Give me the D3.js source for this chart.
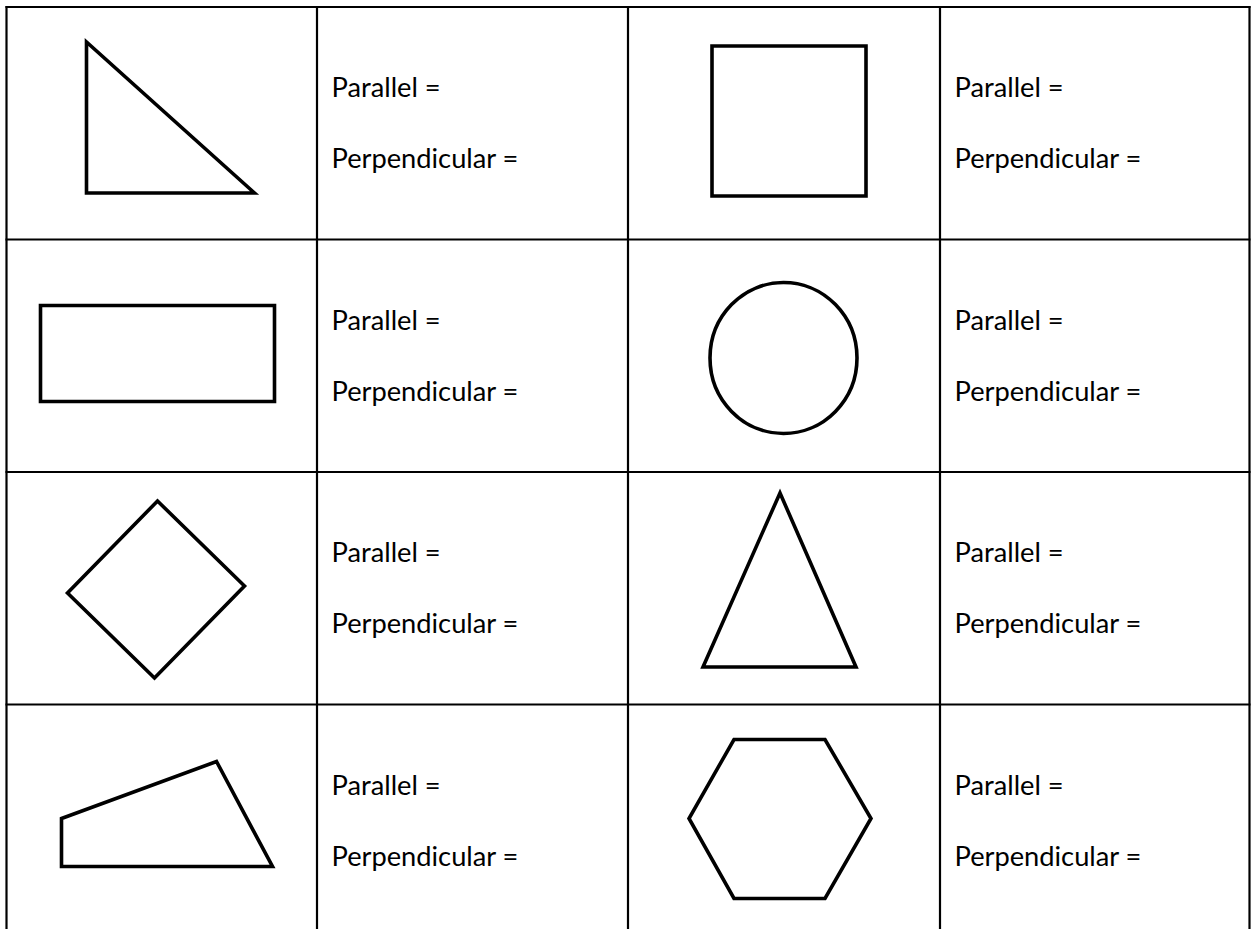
<!DOCTYPE html>
<html>
<head>
<meta charset="utf-8">
<script src="https://cdn.jsdelivr.net/npm/d3@7"></script>
<style>
  html, body { margin: 0; padding: 0; background: #fff; overflow: hidden; }
  svg { display: block; }
</style>
</head>
<body>
<svg id="c" width="1251" height="929"></svg>
<script>
// table layout: 4 rows x 4 columns, shape cells at columns 0 and 2
const rowCount = 4;
const colCount = 4;
const colEdges = [6.5, 317, 628, 940, 1249.5];
const labels = ["Parallel =", "Perpendicular ="];

// shape outlines, vertices relative to the top-left of their cell (px)
const shapeCells = [
  { row: 0, col: 0, name: "right triangle", pts: [[80, 35], [80, 186], [248, 186]] },
  { row: 0, col: 2, name: "square", pts: [[84, 39], [238, 39], [238, 189], [84, 189]] },
  { row: 1, col: 0, name: "rectangle", pts: [[34, 66], [268, 66], [268, 162], [34, 162]] },
  { row: 2, col: 0, name: "rhombus", pts: [[151, 29], [238, 114], [148, 206], [61, 121]] },
  { row: 2, col: 2, name: "isosceles triangle", pts: [[152, 21], [228, 195], [75, 195]] },
  { row: 3, col: 0, name: "trapezium", pts: [[55, 114], [210, 57], [266, 162], [55, 162]] },
  { row: 3, col: 2, name: "hexagon", pts: [[106, 35], [197, 35], [243, 114], [197, 194], [106, 194], [61, 114]] }
];
const circleCells = [
  { row: 1, col: 2, name: "circle", cx: 155.5, cy: 118.5, rx: 73.5, ry: 75.5 }
];

const svg = d3.select("#c");

const x = d3.scaleLinear().domain(d3.range(colCount + 1)).range(colEdges);
const y = d3.scaleLinear().domain([0, rowCount]).range([7, 937]);

// grid
const grid = svg.append("g").attr("stroke", "#000").attr("stroke-width", 2.2);
d3.range(colCount + 1).forEach(i => {
  grid.append("line")
    .attr("x1", x(i)).attr("x2", x(i))
    .attr("y1", y(0) - 1).attr("y2", y(rowCount) + 1);
});
d3.range(rowCount + 1).forEach(j => {
  grid.append("line")
    .attr("x1", x(0) - 1).attr("x2", x(colCount) + 1)
    .attr("y1", y(j)).attr("y2", y(j));
});

// shapes
const line = d3.line();
const shapes = svg.append("g")
  .attr("fill", "none")
  .attr("stroke", "#000")
  .attr("stroke-width", 3.6)
  .attr("stroke-linejoin", "miter");

shapes.selectAll("path")
  .data(shapeCells)
  .join("path")
  .attr("d", d => {
    const ox = x(d.col), oy = y(d.row);
    return line(d.pts.map(p => [ox + p[0], oy + p[1]])) + "Z";
  });

shapes.selectAll("ellipse")
  .data(circleCells)
  .join("ellipse")
  .attr("cx", d => x(d.col) + d.cx)
  .attr("cy", d => y(d.row) + d.cy)
  .attr("rx", d => d.rx)
  .attr("ry", d => d.ry);

// text cells
const textCells = [];
d3.range(rowCount).forEach(r => [1, 3].forEach(c => textCells.push({ row: r, col: c })));

const txt = svg.append("g")
  .attr("font-family", "Lato, 'Open Sans', sans-serif")
  .attr("fill", "#000");

// size the font so the longer label matches the reference width
const probe = txt.append("text").attr("font-size", 100).text(labels[1]);
const w100 = probe.node().getComputedTextLength();
probe.remove();
const fontSize = 100 * 187 / w100;
txt.attr("font-size", fontSize);

const baselines = [90, 161];
textCells.forEach(cell => {
  labels.forEach((lab, k) => {
    txt.append("text")
      .attr("x", x(cell.col) + 14.5)
      .attr("y", y(cell.row) + baselines[k])
      .text(lab);
  });
});
</script>
</body>
</html>
